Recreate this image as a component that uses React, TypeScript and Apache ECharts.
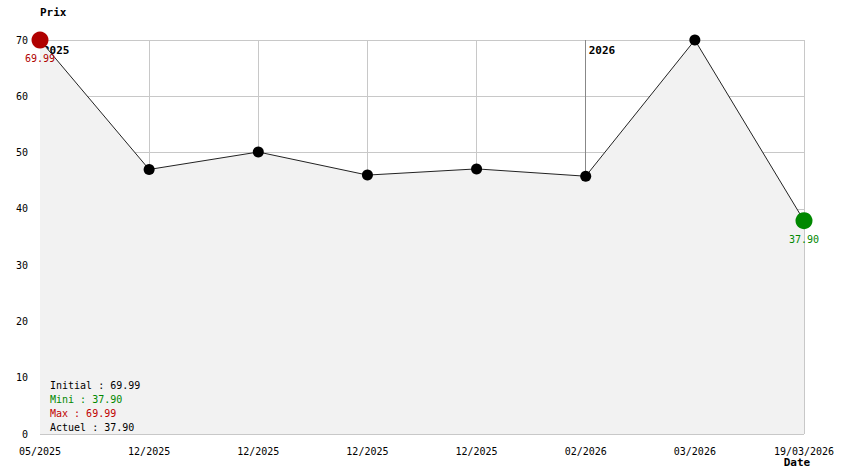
import React, { useEffect, useRef } from "react";
import * as echarts from "echarts";

const categories = ["05/2025", "12/2025", "12/2025", "12/2025", "12/2025", "02/2026", "03/2026", "19/03/2026"];
const prices = [69.99, 47.0, 50.1, 46.0, 47.1, 45.8, 69.99, 37.9];
const yearMarks = [
  { index: 0, label: "2025" },
  { index: 5, label: "2026" },
];
const summary = [
  { text: "Initial : 69.99", color: "#000000" },
  { text: "Mini : 37.90", color: "#008800" },
  { text: "Max : 69.99", color: "#c00000" },
  { text: "Actuel : 37.90", color: "#000000" },
];

const FONT = "DejaVu Sans Mono";

export default function App() {
  const ref = useRef<HTMLDivElement>(null);
  useEffect(() => {
    document.body.style.margin = "0";
    const chart = echarts.init(ref.current!, null, { renderer: "svg" });
    const data = prices.map((v, i) => {
      if (i === 0) {
        return {
          value: v,
          symbolSize: 17,
          itemStyle: { color: "#b00000" },
          label: { show: true, position: "bottom", distance: 5, color: "#b00000", formatter: v.toFixed(2) },
        };
      }
      if (i === prices.length - 1) {
        return {
          value: v,
          symbolSize: 17,
          itemStyle: { color: "#008800" },
          label: { show: true, position: "bottom", distance: 5, color: "#008800", formatter: v.toFixed(2) },
        };
      }
      return { value: v };
    });
    const yearIdx = new Set(yearMarks.filter((m) => m.index > 0).map((m) => m.index));
    const splitColors = categories.map((_, i) => (yearIdx.has(i) ? "#888888" : "#c8c8c8"));
    chart.setOption({
      animation: false,
      textStyle: { fontFamily: FONT },
      grid: { left: 40, right: 40, top: 40, bottom: 40 },
      xAxis: {
        type: "category",
        data: categories,
        boundaryGap: false,
        name: "Date",
        nameLocation: "end",
        nameGap: 0,
        nameTextStyle: {
          fontFamily: FONT,
          fontWeight: "bold",
          fontSize: 11,
          color: "#000",
          align: "center",
          verticalAlign: "top",
          padding: [23, 0, 0, -14],
        },
        axisLine: { show: false },
        axisTick: { show: false },
        axisLabel: { color: "#000", fontSize: 10, fontFamily: FONT, margin: 12, interval: 0 },
        splitLine: { show: true, interval: 0, lineStyle: { color: splitColors, width: 1 } },
      },
      yAxis: {
        type: "value",
        min: 0,
        max: 70,
        interval: 10,
        name: "Prix",
        nameLocation: "end",
        nameGap: 22,
        nameTextStyle: {
          fontFamily: FONT,
          fontWeight: "bold",
          fontSize: 11,
          color: "#000",
          align: "left",
          padding: [0, 0, 0, 0],
        },
        axisLine: { show: false },
        axisTick: { show: false },
        axisLabel: { color: "#000", fontSize: 10, fontFamily: FONT, margin: 12 },
        splitLine: { show: true, lineStyle: { color: "#c8c8c8", width: 1 } },
      },
      series: [
        {
          type: "line",
          data,
          symbol: "circle",
          symbolSize: 11,
          itemStyle: { color: "#000" },
          lineStyle: { color: "#222", width: 1 },
          areaStyle: { color: "#f2f2f2", opacity: 1 },
          label: { fontFamily: FONT, fontSize: 10 },
          z: 3,
        },
      ],
    });
    const texts: any[] = yearMarks.map((m) => {
      const [px, py] = chart.convertToPixel({ gridIndex: 0 }, [m.index, 70]);
      return {
        type: "text",
        left: px + 3,
        top: py + 5,
        z: 2,
        style: { text: m.label, font: `bold 11px "${FONT}"`, fill: "#000" },
      };
    });
    const [lx, ly] = chart.convertToPixel({ gridIndex: 0 }, [0, 0]);
    summary.forEach((s, i) => {
      texts.push({
        type: "text",
        left: lx + 10,
        top: ly - 54 + i * 14,
        z: 10,
        style: { text: s.text, font: `10px "${FONT}"`, fill: s.color },
      });
    });
    chart.setOption({ graphic: texts });
    return () => chart.dispose();
  }, []);
  return <div ref={ref} style={{ width: 844, height: 474 }} />;
}
